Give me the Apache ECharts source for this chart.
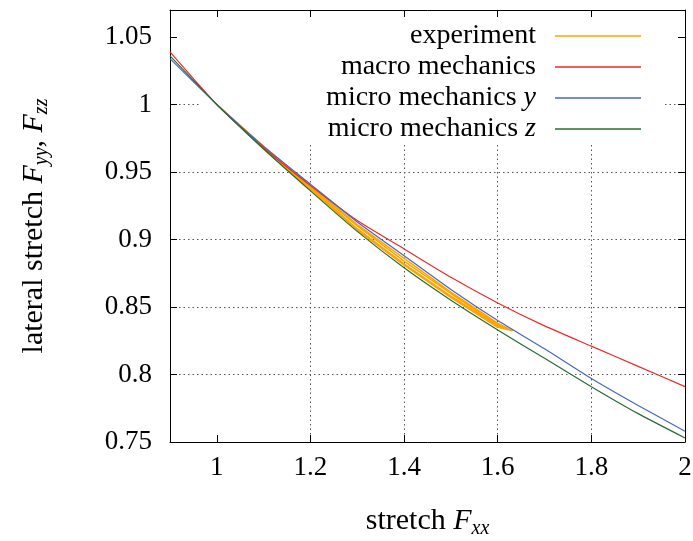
<!DOCTYPE html>
<html>
<head>
<meta charset="utf-8">
<script src="https://cdn.jsdelivr.net/npm/echarts@6/dist/echarts.min.js"></script>
<style>
  html, body { margin: 0; padding: 0; background: #fff; }
  #chart { width: 693px; height: 541px; }
</style>
</head>
<body>
<div id="chart"></div>
<script>
// model curves
var strain  = [0.9, 1.0, 1.1, 1.2, 1.3, 1.4, 1.5, 1.6, 1.7, 1.8, 1.9, 2.0];
var macro   = [1.039, 1.000, 0.968, 0.940, 0.914, 0.893, 0.872, 0.853, 0.836, 0.821, 0.806, 0.791];
var microY  = [1.034, 1.000, 0.969, 0.941, 0.913, 0.888, 0.863, 0.840, 0.819, 0.797, 0.777, 0.758];
var microZ  = [1.036, 1.000, 0.967, 0.936, 0.906, 0.879, 0.855, 0.833, 0.812, 0.791, 0.771, 0.753];

// experiment: two load / unload cycles
var expStrain   = [1.0, 1.1, 1.2, 1.3, 1.4, 1.5, 1.6, 1.632];
var expLoad1    = [1.000, 0.969, 0.940, 0.911, 0.886, 0.861, 0.838, 0.8323];
var expUnload1  = [1.000, 0.967, 0.937, 0.907, 0.881, 0.857, 0.835, 0.8323];
var expLoad2    = [1.000, 0.968, 0.939, 0.910, 0.884, 0.860, 0.837, 0.8323];
var expUnload2  = [1.000, 0.968, 0.938, 0.908, 0.882, 0.858, 0.836, 0.8323];

var xTicks = [1, 1.2, 1.4, 1.6, 1.8, 2];
var yTicks = [0.75, 0.8, 0.85, 0.9, 0.95, 1, 1.05];

function pairs(xs, ys) {
    return xs.map(function(x, i) { return [x, ys[i]]; });
}
function cycle(load, unload) {
    return pairs(expStrain, load).concat(pairs(expStrain, unload).reverse());
}
var expPath = cycle(expLoad1, expUnload1).concat(cycle(expLoad2, expUnload2));

var font = 'Liberation Serif';
var fs = 27;   // tick labels
var ns = 30;   // axis names
var rich = {
    f: { fontFamily: font, fontSize: ns, fontStyle: 'italic', color: '#000' },
    s: { fontFamily: font, fontSize: 20, fontStyle: 'italic', color: '#000', padding: [15, 0, 0, 0] },
    i: { fontFamily: font, fontSize: 28, fontStyle: 'italic', color: '#000', lineHeight: 22 }
};

var chart = echarts.init(document.getElementById('chart'));

var tickStyle = { show: true, inside: true, length: 7, lineStyle: { color: '#000', width: 1 } };
var gridLine = { show: true, showMaxLine: false, showMinLine: false,
                 lineStyle: { color: '#555', width: 1, type: [1.5, 3] } };

function line(name, data, color) {
    return {
        name: name, type: 'line', data: data,
        symbol: 'none', smooth: 0.2, clip: true,
        lineStyle: { color: color, width: 1.2 },
        itemStyle: { color: color }
    };
}

chart.setOption({
    animation: false,
    backgroundColor: '#fff',
    textStyle: { fontFamily: font },
    grid: { left: 170, right: 8, top: 10, bottom: 99, containLabel: false, outerBoundsMode: 'none' },
    graphic: [{
        type: 'rect', z: 1,
        shape: { x: 199, y: 18, width: 465, height: 127 },
        style: { fill: '#fff' }
    }],
    legend: {
        orient: 'vertical', right: 47, top: 17, align: 'right',
        icon: 'rect', itemWidth: 86, itemHeight: 1.6, itemGap: 3,
        data: ['experiment', 'macro mechanics', 'micro mechanics y', 'micro mechanics z'],
        formatter: function(name) { return name.replace(/ ([yz])$/, ' {i|$1}'); },
        textStyle: { fontFamily: font, fontSize: 28, color: '#000', lineHeight: 22,
                     padding: [0, 14, 0, 0], rich: rich }
    },
    xAxis: [{
        type: 'value', min: 0.9, max: 2, position: 'bottom',
        name: 'stretch {f|F}{s|xx}', nameLocation: 'middle', nameGap: 62,
        nameTextStyle: { fontFamily: font, fontSize: ns, color: '#000', rich: rich },
        axisLine: { show: true, lineStyle: { color: '#000', width: 1 } },
        axisTick: Object.assign({ customValues: xTicks }, tickStyle),
        axisLabel: { customValues: xTicks, color: '#000', fontSize: fs, fontFamily: font, margin: 12 },
        splitLine: gridLine
    }, {
        type: 'value', min: 0.9, max: 2, position: 'top',
        axisLine: { show: true, lineStyle: { color: '#000', width: 1 } },
        axisTick: Object.assign({ customValues: xTicks }, tickStyle),
        axisLabel: { show: false },
        splitLine: { show: false }
    }],
    yAxis: [{
        type: 'value', min: 0.75, max: 1.07, position: 'left',
        name: 'lateral stretch {f|F}{s|yy}, {f|F}{s|zz}', nameLocation: 'middle', nameGap: 118,
        nameTextStyle: { fontFamily: font, fontSize: ns, color: '#000', rich: rich },
        axisLine: { show: true, lineStyle: { color: '#000', width: 1 } },
        axisTick: Object.assign({ customValues: yTicks }, tickStyle),
        axisLabel: { customValues: yTicks, color: '#000', fontSize: fs, fontFamily: font, margin: 18 },
        splitLine: gridLine
    }, {
        type: 'value', min: 0.75, max: 1.07, position: 'right',
        axisLine: { show: true, lineStyle: { color: '#000', width: 1 } },
        axisTick: Object.assign({ customValues: yTicks }, tickStyle),
        axisLabel: { show: false },
        splitLine: { show: false }
    }],
    series: [
        Object.assign(line('experiment', expPath, '#ffa500'), { smooth: false, lineStyle: { color: '#ffa500', width: 1.5 } }),
        line('macro mechanics', pairs(strain, macro), '#ee2a2a'),
        line('micro mechanics y', pairs(strain, microY), '#4666c4'),
        line('micro mechanics z', pairs(strain, microZ), '#2b6b34')
    ]
});
</script>
</body>
</html>
